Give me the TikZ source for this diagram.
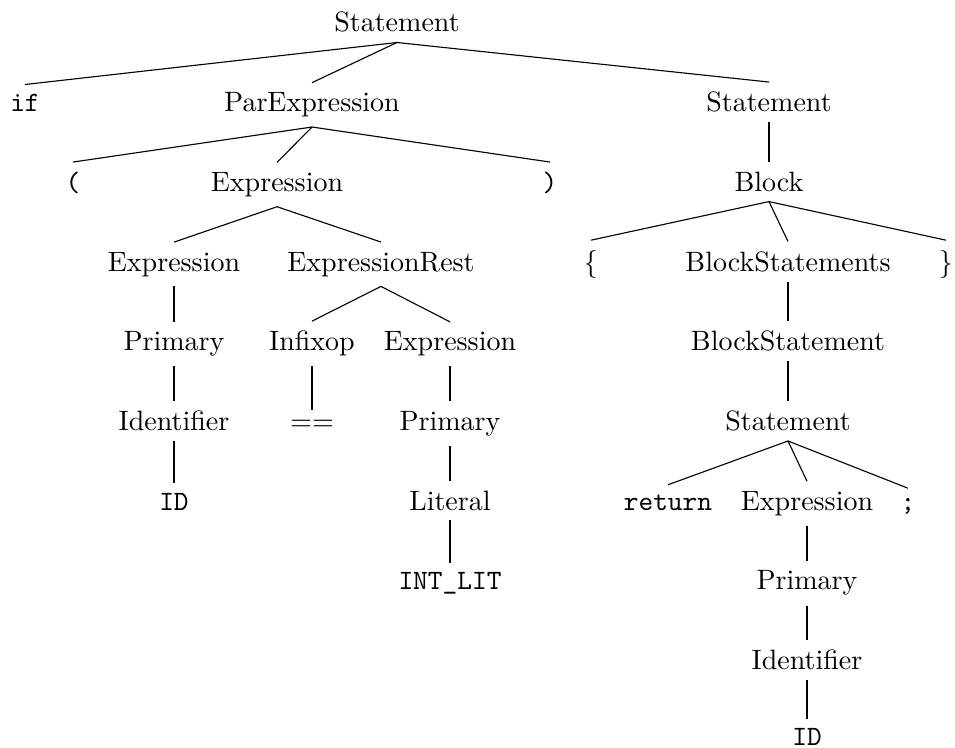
\documentclass[tikz,border=0pt]{standalone}
\begin{document}
\begin{tikzpicture}[x=0.357pt, y=-0.357pt,
    nt/.style={anchor=base},
    tk/.style={anchor=base, font=\ttfamily}]
  \useasboundingbox (0,0) rectangle (955,748);
  % level 0
  \node[nt] (st) at (397,32) {Statement};
  % level 1
  \node[tk] (ifkw) at (25,111.7) {if};
  \node[nt] (parexp) at (312,111.7) {ParExpression};
  \node[nt] (st2) at (769,111.7) {Statement};
  % level 2
  \node[tk] (lpar) at (73,191.4) {(};
  \node[nt] (exp1) at (277,191.4) {Expression};
  \node[tk] (rpar) at (550,191.4) {)};
  \node[nt] (block) at (769,191.4) {Block};
  % level 3
  \node[nt] (exp2) at (174,271.1) {Expression};
  \node[nt] (exprest) at (381,271.1) {ExpressionRest};
  \node[nt] (lbrace) at (591,271.1) {$\{$};
  \node[nt] (bstmts) at (788,271.1) {BlockStatements};
  \node[nt] (rbrace) at (946,271.1) {$\}$};
  % level 4
  \node[nt] (prim1) at (174,350.8) {Primary};
  \node[nt] (infix) at (312,350.8) {Infixop};
  \node[nt] (exp3) at (450,350.8) {Expression};
  \node[nt] (bstmt) at (788,350.8) {BlockStatement};
  % level 5
  \node[nt] (ident1) at (174,430.5) {Identifier};
  \node[nt] (eqeq) at (312,430.5) {==};
  \node[nt] (prim2) at (450,430.5) {Primary};
  \node[nt] (st3) at (788,430.5) {Statement};
  % level 6
  \node[tk] (id1) at (174,510.2) {ID};
  \node[nt] (lit) at (450,510.2) {Literal};
  \node[tk] (retkw) at (668,510.2) {return};
  \node[nt] (exp4) at (807,510.2) {Expression};
  \node[tk] (semi) at (908,510.2) {;};
  % level 7
  \node[tk] (intlit) at (450,589.9) {INT\_LIT};
  \node[nt] (prim3) at (807,589.9) {Primary};
  % level 8
  \node[nt] (ident2) at (807,669.6) {Identifier};
  % level 9
  \node[tk] (id2) at (807,746) {ID};

  % edges
  \draw (st.south) -- (ifkw.north);
  \draw (st.south) -- (parexp.north);
  \draw (st.south) -- (st2.north);
  \draw (parexp.south) -- (lpar.north);
  \draw (parexp.south) -- (exp1.north);
  \draw (parexp.south) -- (rpar.north);
  \draw (st2.south) -- (block.north);
  \draw (exp1.south) -- (exp2.north);
  \draw (exp1.south) -- (exprest.north);
  \draw (block.south) -- (lbrace.north);
  \draw (block.south) -- (bstmts.north);
  \draw (block.south) -- (rbrace.north);
  \draw (exp2.south) -- (prim1.north);
  \draw (exprest.south) -- (infix.north);
  \draw (exprest.south) -- (exp3.north);
  \draw (bstmts.south) -- (bstmt.north);
  \draw (prim1.south) -- (ident1.north);
  \draw (infix.south) -- (eqeq.north);
  \draw (exp3.south) -- (prim2.north);
  \draw (bstmt.south) -- (st3.north);
  \draw (ident1.south) -- (id1.north);
  \draw (prim2.south) -- (lit.north);
  \draw (st3.south) -- (retkw.north);
  \draw (st3.south) -- (exp4.north);
  \draw (st3.south) -- (semi.north);
  \draw (lit.south) -- (intlit.north);
  \draw (exp4.south) -- (prim3.north);
  \draw (prim3.south) -- (ident2.north);
  \draw (ident2.south) -- (id2.north);
\end{tikzpicture}
\end{document}
